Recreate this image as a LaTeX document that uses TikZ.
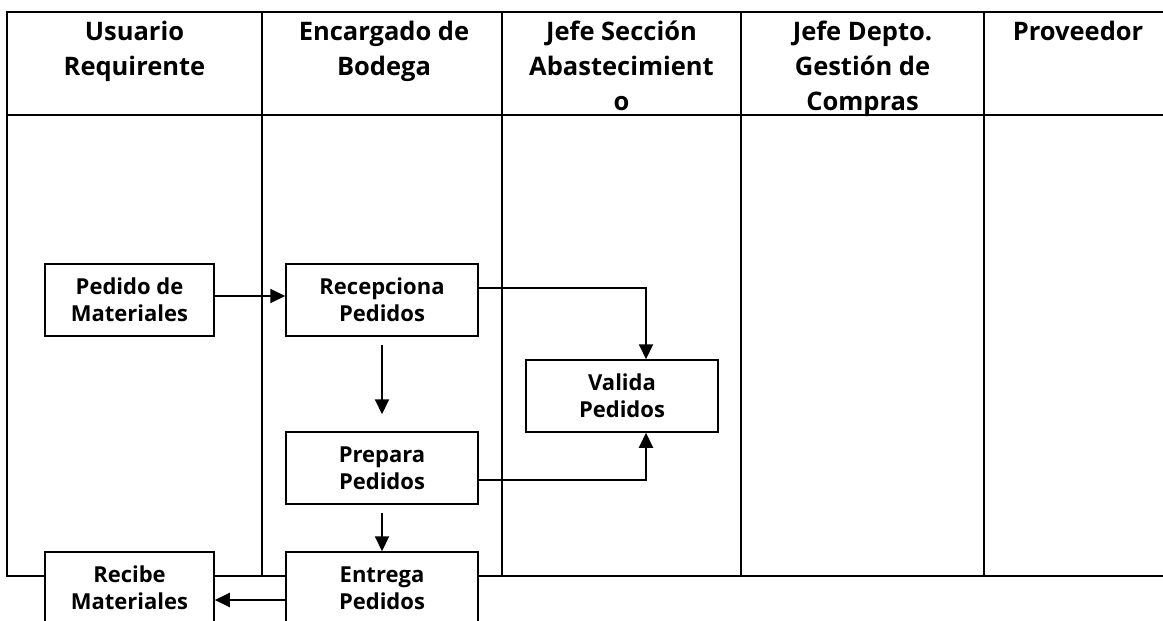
\documentclass[tikz,border=0pt]{standalone}
\usepackage{fontspec}
\setmainfont{Open Sans}
\usetikzlibrary{arrows.meta}

\begin{document}
\begin{tikzpicture}[x=1pt,y=-1pt,
    hdr/.style={anchor=north, inner sep=0pt, align=center, font=\fontsize{25.5}{35}\selectfont\bfseries},
    proc/.style={shape=rectangle, draw=black, line width=1.5pt, fill=white, minimum height=72pt, inner sep=0pt, align=center, font=\fontsize{22}{27}\selectfont\bfseries},
    arr/.style={-{Triangle[length=15pt,width=14pt]}, line width=2pt}]
    \useasboundingbox (0,0) rectangle (1163,621);

    % swimlanes
    \draw[line width=2.8pt] (1180,12) -- (7,12) -- (7,576) -- (1180,576);
    \draw[line width=2.8pt] (7,115) -- (1180,115);
    \foreach \x in {262,502,741,984}
        \draw[line width=2.8pt] (\x,12) -- (\x,576);

    \node[hdr] (h1) at (134.5,15.5) {\strut Usuario\\Requirente};
    \node[hdr] (h2) at (384,15.5) {\strut Encargado de\\Bodega};
    \node[hdr] (h3) at (621.5,15.5) {\strut Jefe Sección\\Abastecimient\\o};
    \node[hdr] (h4) at (862.5,15.5) {\strut Jefe Depto.\\Gestión de\\Compras};
    \node[hdr] (h5) at (1078,15.5) {\strut Proveedor};

    % activities
    \node[proc, minimum width=169pt] (ped) at (129.5,300) {Pedido de\\Materiales};
    \node[proc, minimum width=192pt] (rec) at (382,300) {Recepciona\\Pedidos};
    \node[proc, minimum width=192pt] (prep) at (382,468) {Prepara\\Pedidos};
    \node[proc, minimum width=192pt] (ent) at (382,588) {Entrega\\Pedidos};
    \node[proc, minimum width=169pt] (reci) at (129.5,588) {Recibe\\Materiales};
    \node[proc, minimum width=192pt] (val) at (622,396) {Valida\\Pedidos};

    \draw[arr] ([yshift=4pt]ped.east) -- ([yshift=4pt]rec.west);
    \draw[arr] ([yshift=12pt]rec.east) -| ([xshift=24pt]val.north);
    \draw[arr, shorten <=8pt, shorten >=17pt] (rec) -- (prep);
    \draw[arr] ([yshift=-12pt]prep.east) -| ([xshift=24pt]val.south);
    \draw[arr, shorten <=8pt] (prep) -- (ent);
    \draw[arr] ([yshift=-12pt]ent.west) -- ([yshift=-12pt]reci.east);

\end{tikzpicture}
\end{document}
